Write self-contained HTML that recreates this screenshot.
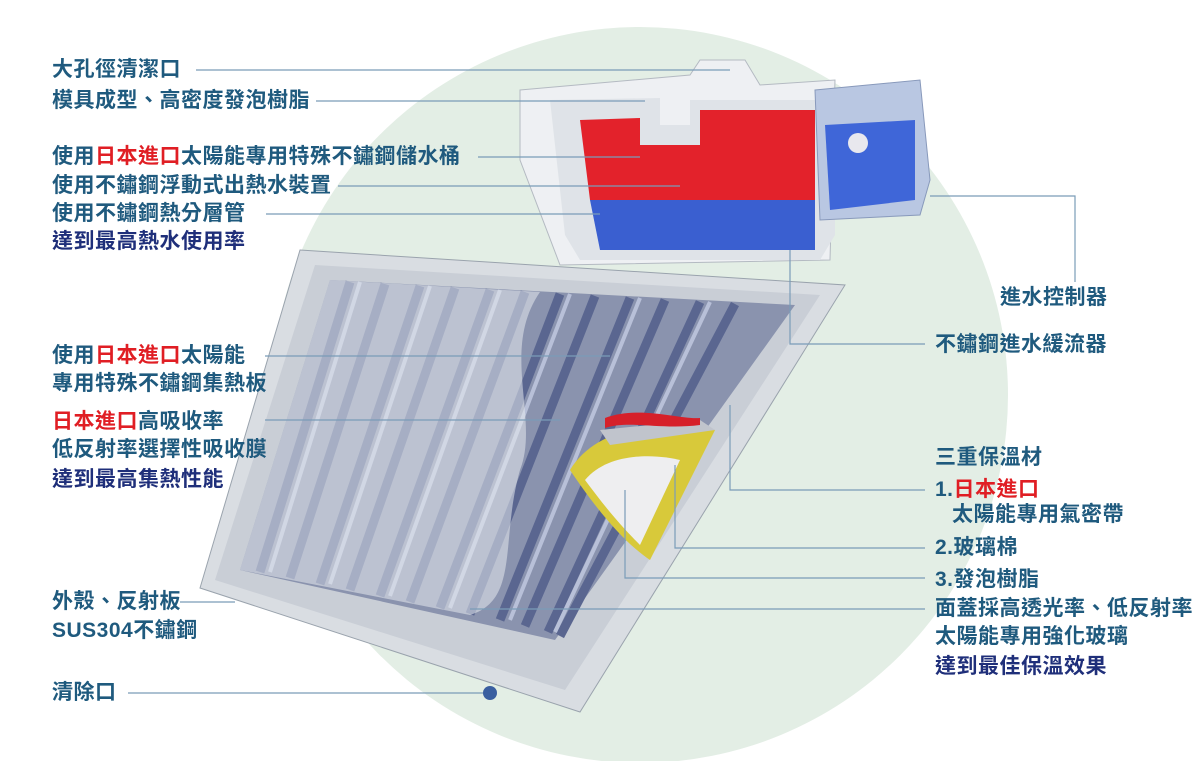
<!DOCTYPE html>
<html><head><meta charset="utf-8"><style>
body{margin:0;width:1200px;height:761px;overflow:hidden;background:#fff;position:relative;font-family:"Liberation Sans","Noto Sans CJK TC",sans-serif}
.t{position:absolute;font-size:21px;letter-spacing:0.5px;font-weight:bold;color:#1f5a7e;white-space:nowrap;line-height:24px}
.n{color:#1f2f7a}.r{color:#e01e24}
svg{position:absolute;left:0;top:0}
</style></head><body>
<svg width="1200" height="761">
<circle cx="640" cy="395" r="368" fill="#e3eee5"/>
<polygon points="300,250 845,285 580,712 200,588" fill="#d9dde2" stroke="#9aa3ad"/>
<polygon points="315,265 820,295 565,690 215,580" fill="#c9ced6"/>
<polygon points="330,280 795,305 555,640 240,570" fill="#8a93ae"/>
<g stroke="#5a6690" stroke-width="9">
<line x1="350" y1="282" x2="260" y2="572"/><line x1="385" y1="284" x2="290" y2="578"/>
<line x1="420" y1="286" x2="320" y2="584"/><line x1="455" y1="288" x2="350" y2="590"/>
<line x1="490" y1="290" x2="380" y2="596"/><line x1="525" y1="292" x2="410" y2="602"/>
<line x1="560" y1="294" x2="440" y2="608"/><line x1="595" y1="296" x2="470" y2="614"/>
<line x1="630" y1="298" x2="500" y2="620"/><line x1="665" y1="300" x2="525" y2="626"/>
<line x1="700" y1="302" x2="548" y2="632"/><line x1="735" y1="304" x2="560" y2="636"/>
</g>
<g stroke="#b8c0d8" stroke-width="4">
<line x1="360" y1="282" x2="270" y2="572"/><line x1="430" y1="286" x2="330" y2="584"/>
<line x1="500" y1="290" x2="390" y2="596"/><line x1="570" y1="294" x2="450" y2="608"/>
<line x1="640" y1="298" x2="510" y2="620"/><line x1="710" y1="302" x2="555" y2="632"/>
</g>
<path d="M330,280 L540,292 C500,350 540,420 520,470 C500,540 520,600 470,615 L240,570 Z" fill="#e6e9ee" opacity="0.55"/>
<path d="M570,470 C600,420 680,420 715,430 L650,560 C620,540 590,500 570,470Z" fill="#d8c93a"/>
<path d="M585,480 C610,450 660,455 680,460 L640,545 C615,520 600,500 585,480Z" fill="#eeeef0"/>
<path d="M600,430 L700,420 L715,430 L610,445Z" fill="#c0c4cc"/>
<path d="M605,418 C640,405 680,420 700,418 L700,425 C660,430 630,420 605,428Z" fill="#d6202a"/>
<polygon points="520,90 690,75 700,60 745,60 760,85 835,80 830,260 560,265 520,160" fill="#eef0f3" stroke="#b4bac2"/>
<path d="M550,100 L660,98 L660,125 L690,125 L690,100 L835,100 L835,235 L820,260 L580,260 L565,235 Z" fill="#dfe3e8"/>
<path d="M580,120 L640,118 L640,145 L700,145 L700,110 L815,110 L815,200 L590,200 Z" fill="#e3222b"/>
<path d="M590,200 L815,200 L815,250 L600,250 Z" fill="#3a5fd0"/>
<polygon points="815,90 920,80 930,180 920,215 820,220" fill="#b9c7e2" stroke="#8899bb"/>
<polygon points="825,125 915,120 915,200 830,210" fill="#3f66d8"/>
<circle cx="858" cy="143" r="10" fill="#e8e8ee"/>
<g stroke="#7a9cb8" stroke-width="1.2" fill="none">
<line x1="196" y1="70" x2="730" y2="70"/><line x1="316" y1="101" x2="645" y2="101"/>
<line x1="478" y1="157" x2="640" y2="157"/><line x1="338" y1="186" x2="680" y2="186"/>
<line x1="266" y1="214" x2="600" y2="214"/>
<polyline points="930,196 1075,196 1075,282"/>
<polyline points="790,250 790,344 925,344"/>
<line x1="265" y1="356" x2="610" y2="356"/><line x1="265" y1="420" x2="560" y2="420"/>
<polyline points="730,405 730,490 925,490"/><polyline points="675,465 675,548 925,548"/>
<polyline points="625,490 625,578 925,578"/><line x1="470" y1="609" x2="925" y2="609"/>
<line x1="180" y1="602" x2="235" y2="602"/><line x1="128" y1="693" x2="490" y2="693"/>
</g>
<circle cx="490" cy="693" r="7" fill="#3a5fa0"/>
</svg>
<div class="t" style="left:52px;top:58px">大孔徑清潔口</div>
<div class="t" style="left:52px;top:89px">模具成型、高密度發泡樹脂</div>
<div class="t" style="left:52px;top:145px">使用<span class="r">日本進口</span>太陽能專用特殊不鏽鋼儲水桶</div>
<div class="t" style="left:52px;top:174px">使用不鏽鋼浮動式出熱水裝置</div>
<div class="t" style="left:52px;top:202px">使用不鏽鋼熱分層管</div>
<div class="t n" style="left:52px;top:230px">達到最高熱水使用率</div>
<div class="t" style="left:52px;top:344px">使用<span class="r">日本進口</span>太陽能</div>
<div class="t" style="left:52px;top:372px">專用特殊不鏽鋼集熱板</div>
<div class="t" style="left:52px;top:410px"><span class="r">日本進口</span>高吸收率</div>
<div class="t" style="left:52px;top:438px">低反射率選擇性吸收膜</div>
<div class="t n" style="left:52px;top:468px">達到最高集熱性能</div>
<div class="t" style="left:52px;top:590px">外殼、反射板</div>
<div class="t" style="left:52px;top:619px">SUS304不鏽鋼</div>
<div class="t" style="left:52px;top:681px">清除口</div>
<div class="t" style="left:1000px;top:286px">進水控制器</div>
<div class="t" style="left:935px;top:333px">不鏽鋼進水緩流器</div>
<div class="t" style="left:935px;top:446px">三重保溫材</div>
<div class="t" style="left:935px;top:478px">1.<span class="r">日本進口</span></div>
<div class="t" style="left:952px;top:503px">太陽能專用氣密帶</div>
<div class="t" style="left:935px;top:536px">2.玻璃棉</div>
<div class="t" style="left:935px;top:568px">3.發泡樹脂</div>
<div class="t" style="left:935px;top:597px">面蓋採高透光率、低反射率</div>
<div class="t" style="left:935px;top:625px">太陽能專用強化玻璃</div>
<div class="t n" style="left:935px;top:655px">達到最佳保溫效果</div>
</body></html>
